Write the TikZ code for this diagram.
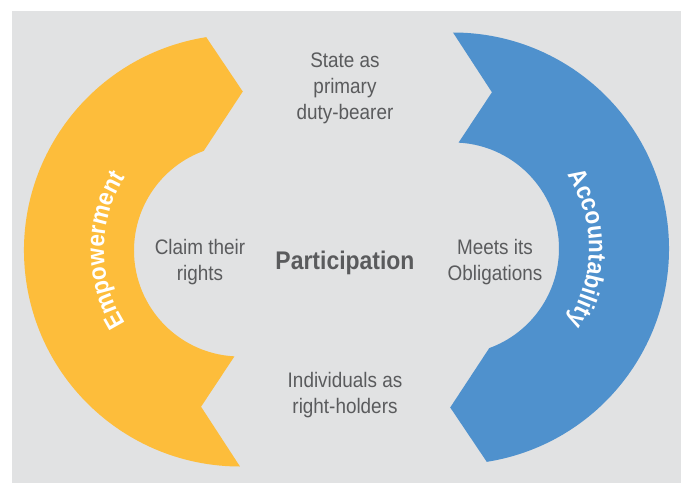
\documentclass[tikz,border=0pt]{standalone}
\usepackage{fontspec}
\setmainfont{Liberation Sans}[FakeStretch=0.9]
\usetikzlibrary{calc,decorations.text}

\definecolor{bggray}{HTML}{E1E2E3}
\definecolor{empyellow}{HTML}{FDBD3B}
\definecolor{accblue}{HTML}{4F91CD}
\definecolor{txtgray}{HTML}{5A5B5D}

\begin{document}
\begin{tikzpicture}[
          x=1pt, y=1pt,
          band/.style={draw=none},
          lbl/.style={align=center,text=txtgray,font=\fontsize{21}{26}\selectfont},
          title/.style={text=txtgray,font=\fontsize{25.5}{30}\selectfont\bfseries},
        ]

        \useasboundingbox (-346.5, -233.5) rectangle (334.5, 249.5);
        \fill[bggray] (-334.5, -233.5) rectangle (334.5, 238.5);

        \coordinate (yc) at (-106.5, -1);
        \coordinate (bc) at (106.5, 1);

        % empowerment band, tail at the bottom, tip at the top
        \fill[band, empyellow] ($(yc)+(99:216)$) arc[start angle=99, end angle=270, radius=216]
          -- ($(yc)+(256:161)$) -- ($(yc)+(267:106)$)
          arc[start angle=267, end angle=110, radius=106]
          -- ($(yc)+(89:159)$) -- cycle;

        % accountability band, turned round
        \fill[band, accblue] ($(bc)+(279:216)$) arc[start angle=279, end angle=450, radius=216]
          -- ($(bc)+(76:161)$) -- ($(bc)+(87:106)$)
          arc[start angle=87, end angle=-70, radius=106]
          -- ($(bc)+(269:159)$) -- cycle;

        \path[decorate, decoration={text along path, text align=center,
            text={|\fontsize{25}{25}\selectfont\bfseries\color{white}|Empowerment}}]
          ($(yc)+(250:136)$) arc[start angle=250, end angle=110, radius=136];
        \path[decorate, decoration={text along path, text align=center,
            text={|\fontsize{25}{25}\selectfont\bfseries\color{white}|Accountability}}]
          ($(bc)+(70:136)$) arc[start angle=70, end angle=-70, radius=136];

        \node[lbl] (state) at (-1.5, 161.5) {State as\\primary\\duty-bearer};
        \node[lbl] (claim) at (-146.5, -12.5) {Claim their\\rights};
        \node[title] (part) at (-1.5, -13) {Participation};
        \node[lbl] (meets) at (148.5, -12.5) {Meets its\\Obligations};
        \node[lbl] (indiv) at (-1.5, -146) {Individuals as\\right-holders};

      \end{tikzpicture}
\end{document}
